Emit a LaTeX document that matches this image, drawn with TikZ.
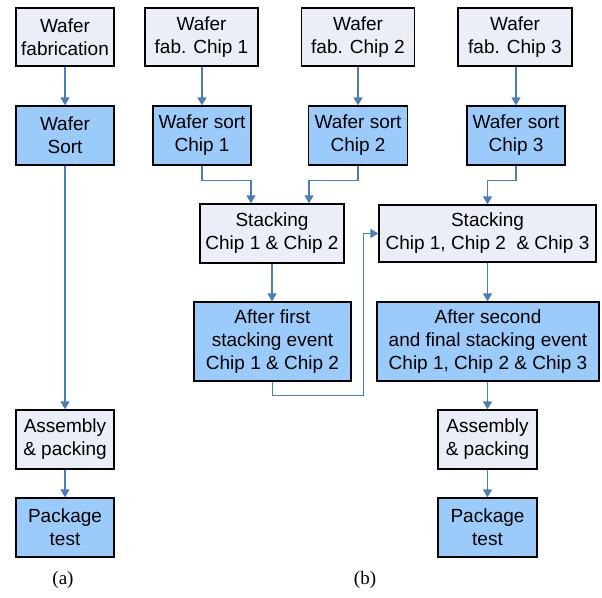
\documentclass[tikz,border=0pt]{standalone}
\usepackage{fontspec}
\setmainfont{Liberation Sans}
\newfontfamily\capfont{Liberation Serif}
\usetikzlibrary{arrows.meta}
\definecolor{boxlight}{RGB}{233,238,247}
\definecolor{boxdark}{RGB}{155,203,250}
\definecolor{linkblue}{RGB}{74,126,187}
\begin{document}
\begin{tikzpicture}[x=1pt,y=-1pt,
        box/.style={draw=black,line width=1.3pt,inner sep=0pt,align=center,
            font=\fontsize{19}{23}\selectfont},
        lightbox/.style={box,fill=boxlight},
        darkbox/.style={box,fill=boxdark},
        conn/.style={draw=linkblue,line width=1.6pt,-{Triangle[length=8pt,width=9pt]}}]
        \useasboundingbox (0,0) rectangle (602,597);

        % (a)
        \node[lightbox,minimum width=98pt,minimum height=58pt] (wfab) at (65,37) {Wafer\\fabrication};
        \node[darkbox,minimum width=98pt,minimum height=59pt] (wsort) at (65,135.5) {Wafer\\Sort};
        \node[lightbox,minimum width=98pt,minimum height=59pt] (asmA) at (65,439.5) {Assembly\\\& packing};
        \node[darkbox,minimum width=98pt,minimum height=59pt] (testA) at (65,527.5) {Package\\test};
        \node[font=\capfont\fontsize{19}{23}\selectfont] (capA) at (63,580) {(a)};

        \draw[conn] (wfab) -- (wsort);
        \draw[conn] (wsort) -- (asmA);
        \draw[conn] (asmA) -- (testA);

        % (b)
        \node[lightbox,minimum width=113pt,minimum height=58pt] (fab1) at (201.5,37) {Wafer\\fab. Chip 1};
        \node[lightbox,minimum width=113pt,minimum height=58pt] (fab2) at (358,37) {Wafer\\fab. Chip 2};
        \node[lightbox,minimum width=114pt,minimum height=58pt] (fab3) at (515,37) {Wafer\\fab. Chip 3};
        \node[darkbox,minimum width=98pt,minimum height=59pt] (sort1) at (202,135.5) {Wafer sort\\Chip 1};
        \node[darkbox,minimum width=99pt,minimum height=59pt] (sort2) at (358,135.5) {Wafer sort\\Chip 2};
        \node[darkbox,minimum width=98pt,minimum height=59pt] (sort3) at (516,135.5) {Wafer sort\\Chip 3};
        \node[lightbox,minimum width=144pt,minimum height=59pt] (stack12) at (272,233.5) {Stacking\\Chip 1 \& Chip 2};
        \node[lightbox,minimum width=217pt,minimum height=57pt] (stack123) at (487.5,233.5) {Stacking\\Chip 1, Chip 2~ \& Chip 3};
        \node[darkbox,minimum width=157pt,minimum height=79pt] (after1) at (272.5,341.5) {After first\\stacking event\\Chip 1 \& Chip 2};
        \node[darkbox,minimum width=222pt,minimum height=79pt] (after2) at (488,341.5) {After second\\and final stacking event\\Chip 1, Chip 2 \& Chip 3};
        \node[lightbox,minimum width=99pt,minimum height=59pt] (asmB) at (487.5,439.5) {Assembly\\\& packing};
        \node[darkbox,minimum width=99pt,minimum height=59pt] (testB) at (487.5,527.5) {Package\\test};
        \node[font=\capfont\fontsize{19}{23}\selectfont] (capB) at (365,580) {(b)};

        \draw[conn] (fab1.south -| sort1) -- (sort1);
        \draw[conn] (fab2) -- (sort2);
        \draw[conn] (fab3.south -| sort3) -- (sort3);
        \draw[conn] (sort1.south) -- ++(0,15) -| ([xshift=-21pt]stack12.north);
        \draw[conn] (sort2.south) -- ++(0,15) -| ([xshift=37pt]stack12.north);
        \draw[conn] (sort3.south) -- ++(0,15) -| (stack123.north);
        \draw[conn] (stack12) -- (stack12 |- after1.north);
        \draw[conn] (after1.south) -- ++(0,14) -| ([xshift=-15pt]stack123.west) -- (stack123.west);
        \draw[conn] (stack123) -- (stack123 |- after2.north);
        \draw[conn] (asmB |- after2.south) -- (asmB);
        \draw[conn] (asmB) -- (testB);
    \end{tikzpicture}
\end{document}
